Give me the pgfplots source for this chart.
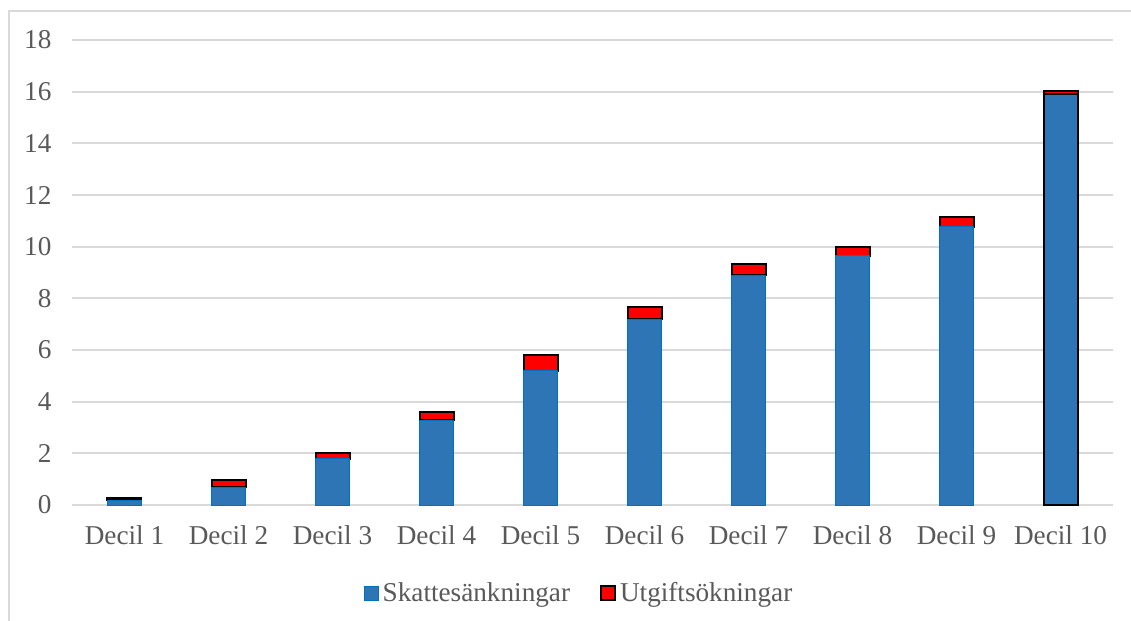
\documentclass[border=0pt]{standalone}
\usepackage{pgfplots}
\pgfplotsset{compat=1.18}
\usepackage{fontspec}
\setmainfont{Liberation Serif}
\definecolor{bblue}{HTML}{2E75B6}
\definecolor{bedge}{HTML}{0070C0}
\definecolor{gridc}{HTML}{D9D9D9}
\definecolor{txt}{HTML}{595959}
\begin{document}
\begin{tikzpicture}
\useasboundingbox (0,0) rectangle (565.5pt,-310.5pt);
\draw[gridc, line width=1pt] (4.25pt,-310.5pt) -- (4.25pt,-5.5pt) -- (565.5pt,-5.5pt);
\begin{axis}[
  at={(36.25pt,-252.5pt)}, anchor=south west,
  scale only axis, width=520pt, height=232.5pt,
  ybar stacked, bar width=17pt,
  xmin=-0.5, xmax=9.5, ymin=0, ymax=18,
  ytick={0,2,...,18},
  xtick={0,...,9},
  xticklabels={Decil 1,Decil 2,Decil 3,Decil 4,Decil 5,Decil 6,Decil 7,Decil 8,Decil 9,Decil 10},
  axis line style={draw=none},
  tick style={draw=none},
  ymajorgrids,
  major grid style={gridc, line width=1pt},
  /pgf/number format/assume math mode=true,
  tick label style={font=\fontsize{13.6}{16}\selectfont, text=txt},
  yticklabel style={xshift=-7pt},
  xticklabel style={yshift=-7pt},
  legend image code/.code={\draw[#1] (0pt,-3.5pt) rectangle (7pt,3.5pt);},
  legend style={at={(0.488,-0.19)}, anchor=center, draw=none, legend columns=2,
    font=\fontsize{13.6}{16}\selectfont, text=txt,
    /tikz/every even column/.append style={column sep=13pt}},
]
\addplot[fill=bblue, draw=bedge, line width=0.5pt] coordinates {
(0,0.18) (1,0.68) (2,1.79) (3,3.28) (4,5.2) (5,7.2) (6,8.9) (7,9.65) (8,10.78) (9,15.9)};
\addlegendentry{Skattesänkningar}
\addplot[fill=red, draw=black, line width=1pt] coordinates {
(0,0.08) (1,0.3) (2,0.23) (3,0.31) (4,0.61) (5,0.47) (6,0.41) (7,0.35) (8,0.36) (9,0.13)};
\addlegendentry{Utgiftsökningar}
\end{axis}
\begin{axis}[
  at={(36.25pt,-252.5pt)}, anchor=south west,
  scale only axis, width=520pt, height=232.5pt,
  ybar, bar width=17pt,
  xmin=-0.5, xmax=9.5, ymin=0, ymax=18,
  hide axis,
]
\addplot[fill=bblue, draw=black, line width=1pt] coordinates {(9,15.9)};
\end{axis}
\end{tikzpicture}
\end{document}
